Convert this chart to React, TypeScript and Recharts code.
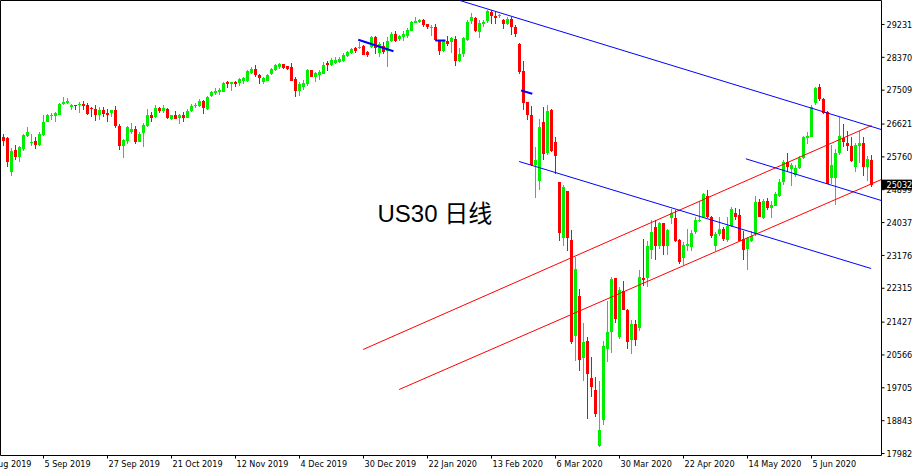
import { ComposedChart, Bar, XAxis, YAxis, ReferenceLine } from "recharts";

// daily candles, US30, oldest first
const opens = [
  26276, 26250, 25358, 25953, 25751, 25972, 26320, 26137, 26189, 26084,
  26339, 26687, 26826, 26826, 26863, 27141, 27167, 27062, 27133, 27107,
  27159, 27107, 27047, 27020, 26845, 26982, 26915, 26915, 26982, 26582,
  26032, 26189, 26425, 26478, 26163, 26381, 26564, 26845, 26800, 27054,
  26950, 27020, 26740, 26845, 26774, 26863, 26792, 26968, 27089, 27089,
  27220, 27020, 27351, 27422, 27474, 27474, 27718, 27676, 27736, 27692,
  27762, 27744, 27954, 28051, 27894, 27718, 27762, 27920, 28025, 28111,
  28182, 28130, 28111, 27807, 27482, 27605, 27658, 28025, 27867, 27894,
  27938, 28216, 28156, 28226, 28260, 28268, 28400, 28489, 28609, 28609,
  28654, 28504, 28636, 28916, 28478, 28680, 28549, 28793, 28987, 28845,
  28898, 28942, 29073, 29283, 29291, 29354, 29231, 29144, 29178, 28811,
  28531, 28811, 28759, 28856, 28268, 28462, 28830, 29317, 29396, 29029,
  29249, 29317, 29553, 29448, 29448, 29354, 29231, 29380, 29178, 28725,
  28000, 27193, 26845, 25552, 25140, 26669, 25856, 26976, 26163, 25096,
  23638, 24860, 23585, 21076, 22125, 20481, 20945, 19957, 19652, 18192,
  18866, 20727, 21163, 22579, 21032, 22256, 21758, 20963, 21365, 21268,
  22579, 22579, 23323, 23916, 23436, 24021, 23436, 24162, 24152, 23593,
  23113, 23436, 23392, 23803, 24073, 24178, 24747, 24196, 23436, 23725,
  23874, 23593, 23942, 24293, 24223, 23612, 23349, 23567, 23743, 24564,
  24162, 24616, 24424, 24477, 24721, 25096, 25620, 25447, 25297, 25472,
  25735, 26260, 26294, 27167, 27587, 27283, 26931, 25211, 25211, 25856,
  26260, 26118, 26058, 25507, 26058, 26118, 25507, 25665,
];

const highs = [
  26372, 26268, 25987, 26076, 26058, 26365, 26538, 26365, 26276, 26407,
  26845, 26889, 26915, 26931, 27178, 27317, 27298, 27151, 27133, 27193,
  27238, 27178, 27062, 27125, 27062, 27062, 27020, 26990, 27089, 26627,
  26234, 26582, 26653, 26582, 26407, 26653, 27020, 26931, 27133, 27062,
  27133, 27036, 26863, 26950, 26879, 26931, 27020, 27151, 27178, 27283,
  27264, 27351, 27500, 27560, 27560, 27736, 27762, 27725, 27762, 27833,
  27867, 28025, 28111, 28156, 27920, 27867, 27920, 28095, 28200, 28216,
  28190, 28140, 28216, 27867, 27718, 27781, 28060, 28043, 27980, 28025,
  28242, 28268, 28358, 28373, 28373, 28478, 28549, 28620, 28636, 28767,
  28706, 28549, 28942, 28920, 28767, 28767, 28898, 29029, 29055, 28950,
  29073, 29126, 29317, 29422, 29362, 29362, 29235, 29205, 29249, 28830,
  28835, 28942, 28898, 28942, 28620, 28898, 29354, 29537, 29422, 29336,
  29354, 29616, 29598, 29553, 29511, 29380, 29422, 29422, 29205, 28740,
  28261, 27200, 27081, 26014, 26758, 27062, 27107, 27020, 26294, 25110,
  25035, 24878, 23848, 23129, 22300, 21399, 21024, 20507, 19983, 19896,
  20945, 21994, 22606, 22597, 22343, 22500, 21776, 21470, 21470, 22781,
  23612, 23567, 24092, 24092, 24047, 24039, 23874, 24398, 24354, 23612,
  23523, 23874, 23848, 24178, 24616, 24808, 24896, 24204, 23785, 24178,
  23916, 24178, 24440, 24424, 24398, 23829, 23672, 23829, 24721, 24660,
  24660, 24687, 24616, 24834, 25185, 25665, 25856, 25594, 25534, 25770,
  26320, 26407, 27107, 27605, 27658, 27309, 26957, 26084, 25972, 26800,
  26627, 26433, 26294, 26118, 26433, 26276, 25770, 25796,
];

const lows = [
  26058, 25489, 25253, 25691, 25620, 25909, 26276, 26058, 25972, 26058,
  26320, 26669, 26714, 26687, 26845, 27107, 27151, 26982, 26976, 26915,
  26976, 26863, 26800, 26706, 26732, 26800, 26687, 26800, 26530, 25953,
  25725, 26103, 26365, 26103, 26137, 26006, 26538, 26669, 26774, 26915,
  26915, 26740, 26722, 26740, 26617, 26687, 26774, 26931, 27036, 27062,
  26889, 26982, 27325, 27387, 27387, 27448, 27571, 27482, 27605, 27631,
  27676, 27718, 27938, 27867, 27658, 27676, 27744, 27894, 28006, 28051,
  28051, 28025, 27750, 27325, 27369, 27518, 27631, 27860, 27718, 27781,
  27920, 28006, 28130, 28182, 28234, 28242, 28373, 28462, 28489, 28594,
  28418, 28373, 28620, 28462, 28373, 28462, 28111, 28767, 28767, 28811,
  28793, 28882, 29055, 29265, 29265, 29160, 29118, 28942, 28793, 28444,
  28504, 28680, 28478, 28137, 28242, 28373, 28811, 29249, 29029, 28882,
  29178, 29275, 29231, 29249, 29406, 29118, 29223, 28960, 28916, 27938,
  26976, 26714, 25533, 24676, 24897, 25665, 25796, 25882, 25316, 23549,
  23436, 23287, 20858, 20402, 20140, 19878, 18892, 19458, 18934, 18148,
  18717, 20376, 20612, 21399, 20990, 21732, 20728, 20596, 20814, 21207,
  22387, 22343, 23087, 23043, 23349, 23174, 23174, 24005, 23523, 22956,
  22912, 23305, 23305, 23743, 24047, 24162, 24162, 23638, 23305, 23698,
  23549, 23523, 23916, 24092, 23549, 23043, 22799, 23523, 23698, 24178,
  24136, 24354, 24162, 24459, 24703, 25035, 25358, 25009, 25245, 25447,
  25709, 26103, 26276, 27133, 27238, 26889, 25040, 25054, 24511, 25822,
  26014, 25909, 25620, 25358, 25594, 25271, 25122, 24983,
];

const closes = [
  26189, 25620, 25927, 25751, 26014, 26339, 26407, 26163, 26084, 26372,
  26687, 26845, 26863, 26915, 27151, 27193, 27220, 27107, 27107, 27151,
  27089, 26879, 27020, 26845, 26982, 26889, 26845, 26982, 26564, 26032,
  26215, 26556, 26478, 26163, 26365, 26601, 26845, 26774, 27054, 26950,
  27054, 26774, 26845, 26758, 26845, 26774, 26950, 27089, 27125, 27238,
  27036, 27325, 27456, 27500, 27526, 27684, 27676, 27718, 27676, 27807,
  27815, 28000, 28069, 27894, 27823, 27815, 27894, 28069, 28156, 28200,
  28095, 28051, 27762, 27482, 27676, 27692, 28043, 27867, 27954, 27980,
  28174, 28156, 28287, 28313, 28331, 28444, 28504, 28594, 28523, 28636,
  28444, 28436, 28916, 28620, 28725, 28504, 28793, 28987, 28793, 28934,
  28987, 29092, 29302, 29317, 29336, 29205, 29160, 29178, 28830, 28531,
  28830, 28725, 28882, 28268, 28470, 28871, 29309, 29422, 29055, 29275,
  29291, 29572, 29448, 29406, 29475, 29231, 29370, 29178, 28969, 27980,
  27167, 26845, 25552, 25683, 26556, 25840, 26950, 25909, 25770, 23769,
  24965, 23638, 20900, 22825, 20421, 20900, 20072, 19721, 19023, 18604,
  20788, 21163, 22545, 21514, 22282, 21758, 20900, 21365, 20963, 22623,
  22537, 23418, 23785, 23436, 24021, 23436, 23848, 24283, 23567, 23016,
  23462, 23480, 23759, 24110, 24110, 24792, 24196, 23698, 23725, 23874,
  23612, 23942, 24398, 24178, 23567, 23323, 23638, 23698, 24571, 24196,
  24616, 24424, 24511, 24792, 25096, 25620, 25489, 25534, 25472, 25735,
  26294, 26320, 27062, 27571, 27283, 26905, 25054, 25534, 25856, 26320,
  26145, 26032, 25647, 26084, 26118, 25507, 25709, 25032,
];

// bar index of each time label on the bottom axis
const dateTicks = [-3, 10, 26, 42, 58, 74, 90, 106, 122, 138, 154, 170, 186, 202];
const dateLabels = [
  "Aug 2019", "5 Sep 2019", "27 Sep 2019", "21 Oct 2019", "12 Nov 2019", "4 Dec 2019",
  "30 Dec 2019", "22 Jan 2020", "13 Feb 2020", "6 Mar 2020", "30 Mar 2020",
  "22 Apr 2020", "14 May 2020", "5 Jun 2020",
];

const priceTicks = [
  29231, 28370, 27509, 26621, 25760, 24899, 24037, 23176, 22315, 21427,
  20566, 19705, 18843, 17982,
];
const lastPrice = 25032;

const xDomain: [number, number] = [-0.75, 219.5];
const yDomain: [number, number] = [17930, 29860];

// trend lines: [bar1, price1, bar2, price2]
const blueLines = [
  [114.1, 29860, 219.5, 26475],
  [128.9, 25639, 216.9, 22833],
  [185.6, 25709, 219.5, 24614],
];
const blueMarks = [
  [88.7, 28830, 97.5, 28531],
  [108, 28811, 110.5, 28811],
  [129.4, 27500, 132.2, 27414],
];
const redLines = [
  [89.9, 20709, 217, 26582],
  [98.9, 19660, 219.5, 25167],
];

const GREEN = "#00ee00";
const RED = "#ff0000";
const FONT = "'DejaVu Sans Condensed', 'DejaVu Sans', sans-serif";

const candles = opens.map((o, i) => ({
  idx: i,
  open: o,
  high: highs[i],
  low: lows[i],
  close: closes[i],
  range: [lows[i], highs[i]],
}));

function Candle(props: any) {
  const { x, y, width, height, payload } = props;
  if (x == null || y == null) return null;
  const { open, close, high, low } = payload;
  const top = Math.min(y, y + height);
  const h = Math.abs(height);
  const span = high - low || 1;
  const toY = (v: number) => top + ((high - v) / span) * h;
  const cx = x + width / 2;
  const color = close >= open ? GREEN : RED;
  const bodyTop = toY(Math.max(open, close));
  const bodyBot = toY(Math.min(open, close));
  return (
    <g shapeRendering="crispEdges">
      <rect x={cx - 0.5} y={top} width={1} height={Math.max(1, h)} fill={color} />
      <rect x={cx - 1.5} y={bodyTop} width={3} height={Math.max(1, bodyBot - bodyTop)} fill={color} />
    </g>
  );
}

function DateTick(props: any) {
  const { x, y, payload } = props;
  const k = dateTicks.indexOf(payload.value);
  return (
    <text x={x + 1} y={y} dy="0.71em" textAnchor="start" fontSize={9} fontFamily={FONT} fill="#000">
      {k >= 0 ? dateLabels[k] : ""}
    </text>
  );
}

function PriceTick(props: any) {
  const { x, y, payload } = props;
  if (payload.value === lastPrice) {
    return (
      <g>
        <rect x={x - 4.5} y={y - 5} width={31} height={10} fill="#000" />
        <text x={x} y={y} dy="0.355em" fontSize={9} fontFamily={FONT} fill="#fff">
          {payload.value}
        </text>
      </g>
    );
  }
  return (
    <text x={x} y={y} dy="0.355em" fontSize={9} fontFamily={FONT} fill="#000">
      {payload.value}
    </text>
  );
}

export default function App() {
  return (
    <div style={{ position: "relative", width: 912, height: 471, background: "#fff" }}>
      <style>{"body{margin:0;background:#fff}"}</style>
      <ComposedChart
        width={912}
        height={471}
        data={candles}
        margin={{ top: 0.5, right: 0, bottom: 0, left: 0.5 }}
      >
        <XAxis
          dataKey="idx"
          type="number"
          domain={xDomain}
          allowDataOverflow
          ticks={dateTicks}
          interval={0}
          height={15.5}
          tickSize={3}
          tickMargin={2}
          tick={<DateTick />}
          axisLine={{ stroke: "#000" }}
          tickLine={{ stroke: "#000" }}
        />
        <YAxis
          orientation="right"
          domain={yDomain}
          allowDataOverflow
          ticks={[...priceTicks, lastPrice]}
          interval={0}
          width={30.5}
          tickSize={3}
          tickMargin={2}
          tick={<PriceTick />}
          axisLine={{ stroke: "#000" }}
          tickLine={{ stroke: "#000" }}
        />
        <ReferenceLine y={yDomain[1]} stroke="#000" />
        <ReferenceLine x={xDomain[0]} stroke="#000" />
        {redLines.map((s, i) => (
          <ReferenceLine
            key={"r" + i}
            segment={[{ x: s[0], y: s[1] }, { x: s[2], y: s[3] }]}
            stroke={RED}
            strokeWidth={1}
          />
        ))}
        {blueLines.map((s, i) => (
          <ReferenceLine
            key={"b" + i}
            segment={[{ x: s[0], y: s[1] }, { x: s[2], y: s[3] }]}
            stroke="#0000ff"
            strokeWidth={1}
          />
        ))}
        {blueMarks.map((s, i) => (
          <ReferenceLine
            key={"m" + i}
            segment={[{ x: s[0], y: s[1] }, { x: s[2], y: s[3] }]}
            stroke="#0000ff"
            strokeWidth={2}
          />
        ))}
        <Bar dataKey="range" barSize={3} shape={Candle} isAnimationActive={false} />
      </ComposedChart>
      <svg width={912} height={471} style={{ position: "absolute", left: 0, top: 0, pointerEvents: "none" }}>
        <text
          x={377.5}
          y={221.5}
          fontSize={24}
          fontFamily="'Liberation Sans', 'Noto Sans CJK SC', sans-serif"
          fill="#000"
        >
          US30 日线
        </text>
      </svg>
    </div>
  );
}
